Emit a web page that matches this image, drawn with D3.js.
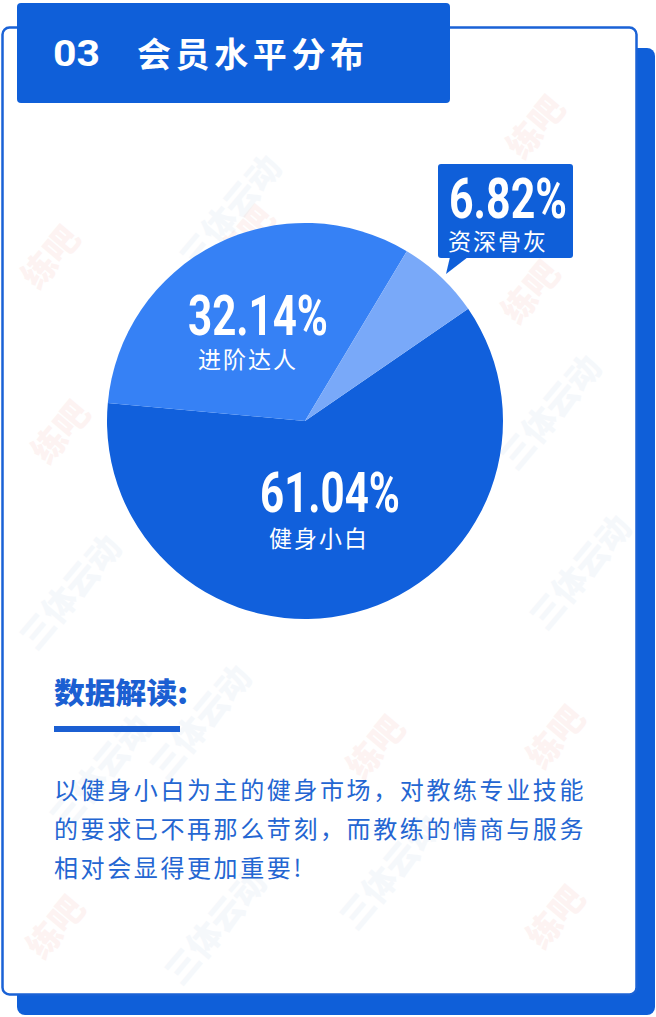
<!DOCTYPE html>
<html>
<head>
<meta charset="utf-8">
<script src="https://cdn.jsdelivr.net/npm/d3@7/dist/d3.min.js"></script>
<style>
  html, body { margin: 0; padding: 0; background: #ffffff; }
  svg { display: block; }
</style>
</head>
<body>
<svg id="chart" width="656" height="1017"></svg>
<script>
// ---- data ----
const categories = ["健身小白", "进阶达人", "资深骨灰"];
const values = [61.04, 32.14, 6.82];
const valueLabels = ["61.04%", "32.14%", "6.82%"];
const colors = ["#1160dc", "#3681f5", "#79a9f9"];
const title = "会员水平分布";
const titleNum = "03";
const noteTitle = "数据解读:";
const noteLines = [
  "以健身小白为主的健身市场，对教练专业技能",
  "的要求已不再那么苛刻，而教练的情商与服务",
  "相对会显得更加重要!"
];

const svg = d3.select("#chart");
const blue = "#0f5fd9";
const cjk = "'Noto Sans CJK SC', 'Noto Sans', sans-serif";
const num = "Roboto, 'Liberation Sans', sans-serif";

// ---- frame ----
svg.append("rect").attr("x", 17).attr("y", 48).attr("width", 638).attr("height", 967)
  .attr("rx", 8).attr("fill", blue);
svg.append("rect").attr("x", 2.5).attr("y", 27.5).attr("width", 634).attr("height", 967)
  .attr("rx", 7).attr("fill", "#ffffff").attr("stroke", "#1a62d6").attr("stroke-width", 2.5);

// ---- faint watermarks ----
const wm = svg.append("g").attr("font-family", cjk).attr("font-weight", 900).attr("font-size", 34);
const marks = [
  ["练吧", 60, 265, "#f3b8b0"], ["练吧", 545, 135, "#f3b8b0"], ["练吧", 540, 300, "#f3b8b0"],
  ["练吧", 70, 440, "#f3b8b0"], ["练吧", 385, 755, "#f3b8b0"], ["练吧", 565, 745, "#f3b8b0"],
  ["练吧", 65, 935, "#f3b8b0"], ["练吧", 565, 925, "#f3b8b0"], ["练吧", 255, 245, "#f3b8b0"],
  ["三体云动", 80, 600, "#c8d6ea"], ["三体云动", 240, 220, "#c8d6ea"], ["三体云动", 560, 420, "#c8d6ea"],
  ["三体云动", 210, 730, "#c8d6ea"], ["三体云动", 400, 880, "#c8d6ea"], ["三体云动", 225, 935, "#c8d6ea"],
  ["三体云动", 590, 580, "#c8d6ea"], ["三体云动", 110, 780, "#c8d6ea"]
];
marks.forEach(m => {
  wm.append("text").attr("x", m[1]).attr("y", m[2]).attr("text-anchor", "middle")
    .attr("transform", `rotate(-50 ${m[1]} ${m[2]})`)
    .attr("fill", m[3]).attr("opacity", 0.16).text(m[0]);
});

// ---- header ----
svg.append("rect").attr("x", 17).attr("y", 3).attr("width", 433).attr("height", 100)
  .attr("rx", 4).attr("fill", blue);
svg.append("text").attr("x", 53).attr("y", 66).attr("font-family", num).attr("font-weight", 700)
  .attr("font-size", 37).attr("fill", "#ffffff")
  .attr("textLength", 47).attr("lengthAdjust", "spacingAndGlyphs").text(titleNum);
svg.append("text").attr("x", 137).attr("y", 67).attr("font-family", cjk).attr("font-weight", 700)
  .attr("font-size", 34).attr("letter-spacing", 4.6).attr("fill", "#ffffff").text(title);

// ---- pie ----
const cx = 305, cy = 421, R = 198;
const a0 = 55.5 * Math.PI / 180;
const pie = d3.pie().sort(null).startAngle(a0).endAngle(a0 + 2 * Math.PI);
const arc = d3.arc().innerRadius(0).outerRadius(R);
const g = svg.append("g").attr("transform", `translate(${cx},${cy})`);
g.selectAll("path").data(pie(values)).join("path")
  .attr("d", arc).attr("fill", (d, i) => colors[i]);

// labels (offsets relative to pie center)
const labelPos = [
  { nx: 25, ny: 91, nw: 140, lx: 14, ly: 126 },
  { nx: -47, ny: -86, nw: 140, lx: -57, ly: -53 }
];
labelPos.forEach((p, i) => {
  g.append("text").attr("x", p.nx - 70).attr("y", p.ny).attr("font-family", num).attr("font-weight", 700)
    .attr("font-size", 56).attr("fill", "#ffffff")
    .attr("textLength", p.nw).attr("lengthAdjust", "spacingAndGlyphs").text(valueLabels[i]);
  g.append("text").attr("x", p.lx).attr("y", p.ly).attr("text-anchor", "middle").attr("font-family", cjk)
    .attr("font-weight", 400).attr("font-size", 23).attr("letter-spacing", 2).attr("fill", "#ffffff")
    .text(categories[i]);
});

// callout for smallest slice
const bx = 438, by = 164, bw = 135, bh = 94;
svg.append("path")
  .attr("d", `M${bx + 12},${by + bh - 1} L${bx + 8},${by + bh + 16} L${bx + 30},${by + bh - 1} Z`)
  .attr("fill", blue);
svg.append("rect").attr("x", bx).attr("y", by).attr("width", bw).attr("height", bh).attr("rx", 3).attr("fill", blue);
svg.append("text").attr("x", 449).attr("y", 218).attr("font-family", num).attr("font-weight", 700)
  .attr("font-size", 56).attr("fill", "#ffffff")
  .attr("textLength", 118).attr("lengthAdjust", "spacingAndGlyphs").text(valueLabels[2]);
svg.append("text").attr("x", 448).attr("y", 250).attr("font-family", cjk).attr("font-weight", 400)
  .attr("font-size", 23).attr("letter-spacing", 2).attr("fill", "#ffffff").text(categories[2]);

// ---- interpretation ----
svg.append("text").attr("x", 54).attr("y", 704).attr("font-family", cjk).attr("font-weight", 900)
  .attr("font-size", 29).attr("fill", "#1b5fd2")
  .attr("textLength", 134).attr("lengthAdjust", "spacingAndGlyphs").text(noteTitle);
svg.append("rect").attr("x", 54).attr("y", 726).attr("width", 126).attr("height", 6).attr("fill", "#1b5fd2");
svg.append("g").selectAll("text").data(noteLines).join("text")
  .attr("x", 54).attr("y", (d, i) => 799 + i * 39)
  .attr("font-family", cjk).attr("font-size", 24).attr("letter-spacing", 2.6)
  .attr("fill", "#2466d2").text(d => d);
</script>
</body>
</html>
